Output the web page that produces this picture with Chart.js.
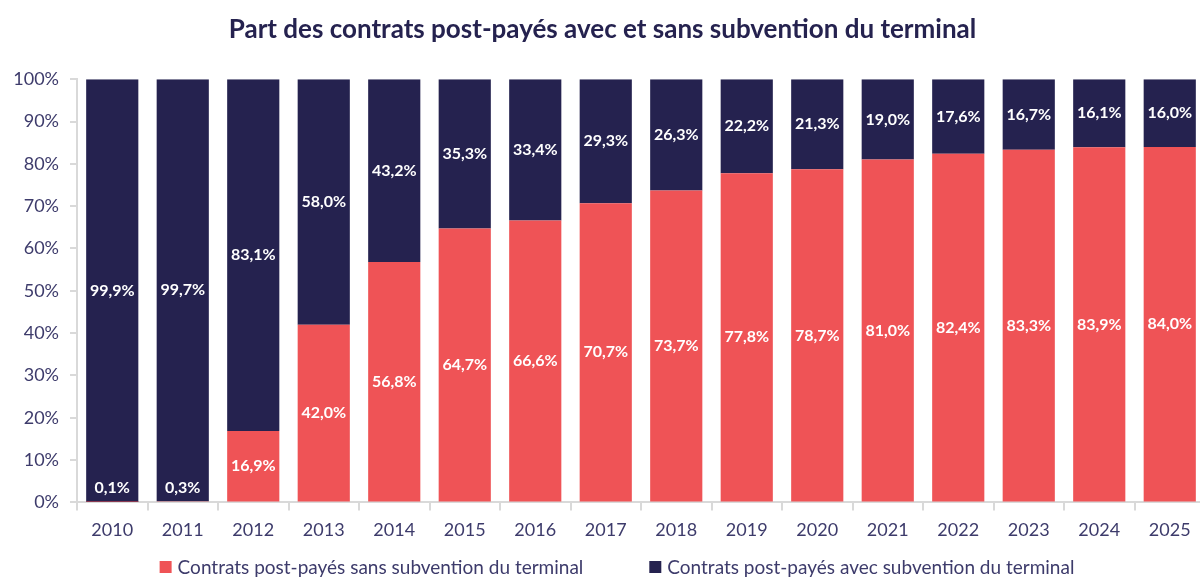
<!DOCTYPE html>
<html><head><meta charset="utf-8">
<script src="https://cdn.jsdelivr.net/npm/chart.js@4/dist/chart.umd.min.js"></script>
<style>html,body{margin:0;padding:0;background:#fff;overflow:hidden}#wrap{width:1200px;height:577px;overflow:hidden}canvas{display:block}</style>
</head><body><div id="wrap"><canvas id="c" width="1212" height="577"></canvas></div>
<script>
const categories = ['2010','2011','2012','2013','2014','2015','2016','2017','2018','2019','2020','2021','2022','2023','2024','2025'];
const sansSubvention = [0.1,0.3,16.9,42.0,56.8,64.7,66.6,70.7,73.7,77.8,78.7,81.0,82.4,83.3,83.9,84.0];
const avecSubvention = [99.9,99.7,83.1,58.0,43.2,35.3,33.4,29.3,26.3,22.2,21.3,19.0,17.6,16.7,16.1,16.0];
const yTicks = [0,10,20,30,40,50,60,70,80,90,100];

const FONT = 'Lato, "Open Sans", sans-serif';
const NAVY = '#25224F';
const RED = '#EF5356';
const TXT = '#3D3B6B';

const labelPlugin = {
  id: 'barLabels',
  afterDatasetsDraw(chart) {
    const ctx = chart.ctx;
    ctx.save();
    ctx.font = 'bold 16px ' + FONT;
    ctx.fillStyle = '#ffffff';
    ctx.textAlign = 'center';
    ctx.textBaseline = 'middle';
    chart.data.datasets.forEach((ds, di) => {
      const meta = chart.getDatasetMeta(di);
      meta.data.forEach((el, i) => {
        const v = ds.data[i];
        let y = (el.y + el.base) / 2;
        if (Math.abs(el.base - el.y) < 24) y = Math.max(el.y, el.base) - 14;
        ctx.fillText(v.toFixed(1).replace('.', ',') + '%', el.x, y);
      });
    });
    ctx.restore();
  }
};

const legendPlugin = {
  id: 'bottomLegend',
  afterDraw(chart) {
    const ctx = chart.ctx;
    ctx.save();
    ctx.font = '19px ' + FONT;
    ctx.textBaseline = 'middle';
    ctx.textAlign = 'left';
    const box = 12, gapText = 6, gapItem = 66, y = 567;
    const items = chart.data.datasets.map(d => ({ text: d.label, color: d.backgroundColor, w: ctx.measureText(d.label).width }));
    const total = items.reduce((s, it) => s + box + gapText + it.w, 0) + gapItem * (items.length - 1);
    let x = 617 - total / 2;
    items.forEach(it => {
      ctx.fillStyle = it.color;
      ctx.fillRect(x, y - box / 2, box, box);
      ctx.fillStyle = TXT;
      ctx.fillText(it.text, x + box + gapText, y + 1);
      x += box + gapText + it.w + gapItem;
    });
    ctx.restore();
  }
};

new Chart(document.getElementById('c'), {
  type: 'bar',
  data: {
    labels: categories,
    datasets: [
      { label: 'Contrats post-payés sans subvention du terminal', data: sansSubvention, backgroundColor: RED, barPercentage: 0.74, categoryPercentage: 1 },
      { label: 'Contrats post-payés avec subvention du terminal', data: avecSubvention, backgroundColor: NAVY, barPercentage: 0.74, categoryPercentage: 1 }
    ]
  },
  options: {
    responsive: false,
    animation: false,
    layout: { padding: { left: 0, right: 7, top: 0, bottom: 27 } },
    plugins: {
      title: { display: true, text: 'Part des contrats post-payés avec et sans subvention du terminal', color: NAVY, font: { family: FONT, size: 26, weight: 'bold' }, padding: { top: 14, bottom: 34 } },
      legend: { display: false },
      tooltip: { enabled: false }
    },
    scales: {
      x: {
        stacked: true,
        grid: { display: true, drawOnChartArea: false, offset: true, tickLength: 8, color: '#D9D9D9', lineWidth: 2 },
        border: { color: '#D9D9D9', width: 2 },
        ticks: { color: TXT, font: { family: FONT, size: 18 }, padding: 9 }
      },
      y: {
        stacked: true, min: 0, max: 100,
        afterBuildTicks(s) { s.ticks = yTicks.map(v => ({ value: v })); },
        afterFit(s) { s.width = 77; },
        grid: { display: true, drawOnChartArea: false, tickLength: 7, color: '#D9D9D9', lineWidth: 2 },
        border: { color: '#D9D9D9', width: 2 },
        ticks: { color: TXT, font: { family: FONT, size: 18 }, padding: 11, callback: v => v + '%' }
      }
    }
  },
  plugins: [labelPlugin, legendPlugin]
});
</script></body></html>
